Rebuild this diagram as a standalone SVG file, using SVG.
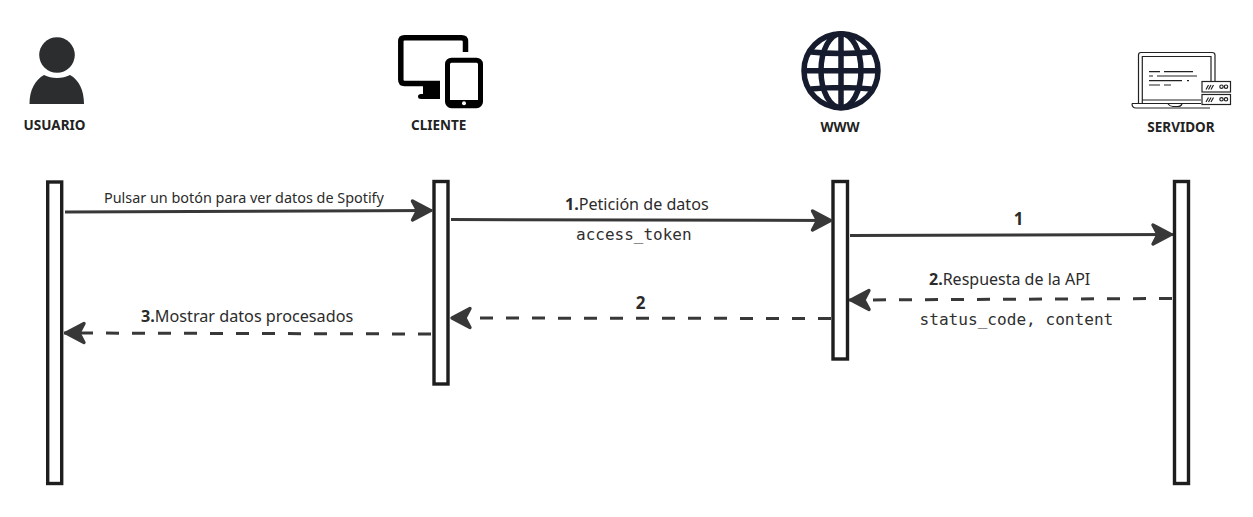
<svg xmlns="http://www.w3.org/2000/svg" width="1253" height="517" viewBox="0 0 1253 517">
<style>
text{font-family:"Noto Sans","Open Sans","Liberation Sans",sans-serif;fill:#2b2b2b}
.h{font-weight:700;font-size:13.500px;text-anchor:middle;fill:#222}
.m{font-family:"DejaVu Sans Mono","Liberation Mono",monospace;fill:#2f2f2f}
.b{font-weight:700}
.ll{fill:#fff;stroke:#1e1e1e;stroke-width:3.400}
.c{fill:none;stroke:#383838;stroke-width:3;marker-end:url(#ah)}
.d{stroke-dasharray:13 13}
.l1{fill:none;stroke:#222;stroke-width:1.200}
</style>
<defs>
<marker id="ah" markerUnits="userSpaceOnUse" markerWidth="30" markerHeight="30" refX="28" refY="15" orient="auto">
<path d="M26,15L8,5.500L13,15L8,24.500Z" fill="#383838" stroke="#383838" stroke-width="3.400" stroke-linejoin="round"/>
</marker>
</defs>
<rect width="1253" height="517" fill="#fff"/>
<g id="usuario">
<circle cx="57" cy="55" r="17.800" fill="#2b2d2f"/>
<path d="M29.500,104C29.500,90 35,80 44,75C48,77 52,78 57,78C62,78 66,77 70,75C79,80 84,90 84,104Z" fill="#2b2d2f"/>
<text class="h" x="54.500" y="130">USUARIO</text>
</g>
<g id="cliente">
<path d="M465.500,52V41.500Q465.500,37.800 461.500,37.800H404.500Q400.800,37.800 400.800,41.500V79.500Q400.800,83.500 404.500,83.500H440" fill="none" stroke="#000" stroke-width="5.500"/>
<path d="M423,81H440V99H421Q418,99 418,96.500Q418,94 421,94H423Z" fill="#000"/>
<rect x="447.500" y="60.200" width="33" height="45.500" rx="4" fill="#fff" stroke="#000" stroke-width="5"/>
<rect x="447.500" y="100" width="33" height="6" fill="#000"/>
<circle cx="464" cy="103.300" r="2" fill="#fff"/>
<text class="h" x="438.700" y="130">CLIENTE</text>
</g>
<g id="www">
<g fill="none" stroke="#161c2d" stroke-width="5.500">
<circle cx="841" cy="70.700" r="37"/>
<ellipse cx="841" cy="70.700" rx="20" ry="37"/>
<path d="M841,33V108M804,70.700H878M811,52Q841,55 871,52M811,89Q841,86 871,89"/>
</g>
<text class="h" x="840" y="131.500">WWW</text>
</g>
<g id="servidor">
<path class="l1" d="M1138.500,103V55Q1138.500,52.500 1141,52.500H1212Q1215,52.500 1215,55V81"/>
<path class="l1" d="M1142.300,103V56.500H1211V81M1142.300,100H1201"/>
<path class="l1" d="M1132,103.500H1201M1132,103.500Q1132,108 1136,108H1210M1168,104Q1170,106.500 1173,106.500H1178Q1181,106.500 1182,104"/>
<path class="l1" d="M1149,71.700H1160M1164,71.700H1193M1149,76H1153M1157,76H1197M1149,80.700H1182M1187,80.700H1189M1149,85H1160M1164,85H1171"/>
<rect class="l1" x="1202" y="81.500" width="28.500" height="10.500" fill="#fff"/>
<rect class="l1" x="1202" y="94.500" width="28.500" height="10" fill="#fff"/>
<path class="l1" d="M1206,89.500L1208.500,85M1208.500,89.500L1211,85M1211,89.500L1213.500,85M1206,102L1208.500,97.500M1208.500,102L1211,97.500M1211,102L1213.500,97.500"/>
<circle class="l1" cx="1221.500" cy="86.700" r="1.700"/><circle class="l1" cx="1226" cy="86.700" r="1.700"/>
<circle class="l1" cx="1221.500" cy="99.300" r="1.700"/><circle class="l1" cx="1226" cy="99.300" r="1.700"/>
<text class="h" x="1181" y="131.500">SERVIDOR</text>
</g>
<g id="lifelines">
<rect id="ll-usuario" class="ll" x="47.700" y="182" width="14" height="301.500"/>
<rect id="ll-cliente" class="ll" x="434" y="181.500" width="14" height="202.500"/>
<rect id="ll-www" class="ll" x="833" y="181.500" width="14.500" height="177.500"/>
<rect id="ll-servidor" class="ll" x="1174.500" y="181.500" width="14" height="302"/>
</g>
<g id="connectors">
<path class="c" d="M65,212L432.500,210.500"/>
<path class="c" d="M451,219.500L832.500,220.500"/>
<path class="c" d="M850,235.500L1173,234.500"/>
<path class="c d" d="M1172,298.500L849,300"/>
<path class="c d" d="M831,318.500L450,318"/>
<path class="c d" d="M431,334L64,333"/>
</g>
<g id="labels">
<text x="104" y="203" font-size="14.400">Pulsar un botón para ver datos de Spotify</text>
<text x="565" y="209.500" font-size="16.100"><tspan class="b">1.</tspan>Petición de datos</text>
<text class="m" x="576" y="240" font-size="16">access_token</text>
<text class="b" x="1018.500" y="224.500" font-size="17" text-anchor="middle">1</text>
<text x="929" y="285" font-size="16"><tspan class="b">2.</tspan>Respuesta de la API</text>
<text class="m" x="919.500" y="325" font-size="16.100">status_code, content</text>
<text class="b" x="640.500" y="308.500" font-size="17" text-anchor="middle">2</text>
<text x="141" y="321.500" font-size="16.200"><tspan class="b">3.</tspan>Mostrar datos procesados</text>
</g>
</svg>
